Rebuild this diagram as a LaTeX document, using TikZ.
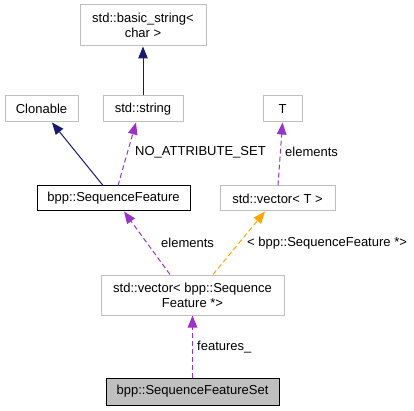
\documentclass[tikz,border=0pt]{standalone}
\usepackage{fontspec}
\setmainfont{Liberation Sans}
\usetikzlibrary{arrows.meta}
\definecolor{navy}{HTML}{191970}
\definecolor{orch}{HTML}{9A32CD}
\definecolor{orng}{HTML}{FFA500}
\definecolor{lgray}{HTML}{BFBFBF}
\begin{document}
\begin{tikzpicture}[x=1pt,y=-1pt,
  every node/.style={font=\fontsize{13}{15}\selectfont, inner sep=0pt},
  cls/.style={draw=lgray, line width=1pt, fill=white, align=center},
  lbl/.style={anchor=west},
  inh/.style={draw=navy, line width=1pt, -{Triangle[length=12pt,width=9.5pt]}},
  use/.style={draw=orch, line width=1pt, dash pattern=on 5pt off 3pt, -{Triangle[length=12pt,width=9.5pt]}},
  tmpl/.style={draw=orng, line width=1pt, dash pattern=on 5pt off 3pt, -{Triangle[length=12pt,width=9.5pt]}}]
\useasboundingbox (0,0) rectangle (414,411);
\node[cls, minimum width=126pt, minimum height=41pt] (bs) at (143,25.5) {std::basic\_string<\\char >};
\node[cls, minimum width=73pt, minimum height=26pt] (clon) at (41.5,109) {Clonable};
\node[cls, minimum width=80pt, minimum height=26pt] (str) at (143,109) {std::string};
\node[cls, minimum width=39pt, minimum height=26pt] (t) at (282.5,109) {T};
\node[cls, draw=black, minimum width=153pt, minimum height=25pt] (sf) at (113.5,198.5) {bpp::SequenceFeature};
\node[cls, minimum width=115pt, minimum height=25pt] (vt) at (277.5,198.5) {std::vector< T >};
\node[cls, minimum width=183pt, minimum height=40pt] (vb) at (192.5,295) {std::vector< bpp::Sequence\\Feature *>};
\node[cls, draw=black, fill=lgray, minimum width=173pt, minimum height=27pt] (set) at (192.5,391.5) {bpp::SequenceFeatureSet};

\draw[inh] (str.north) -- (bs.south);
\draw[inh] ([xshift=-10.5pt]sf.north) -- ([xshift=10.5pt]clon.south);
\draw[use] ([xshift=4.5pt]sf.north) -- ([xshift=-7pt]str.south);
\draw[use] ([xshift=0.5pt]vt.north) -- (t.south);
\draw[use] ([xshift=-22.5pt]vb.north) -- ([xshift=10.5pt]sf.south);
\draw[tmpl] ([xshift=20.5pt]vb.north) -- ([xshift=-12.5pt]vt.south);
\draw[use] (set.north) -- (vb.south);

\node[lbl] (l1) at (135,152) {NO\_ATTRIBUTE\_SET};
\node[lbl] (l2) at (285,152) {elements};
\node[lbl] (l3) at (161,243) {elements};
\node[lbl] (l4) at (247,243) {< bpp::SequenceFeature *>};
\node[lbl] (l5) at (197,347) {features\_};
\end{tikzpicture}
\end{document}
